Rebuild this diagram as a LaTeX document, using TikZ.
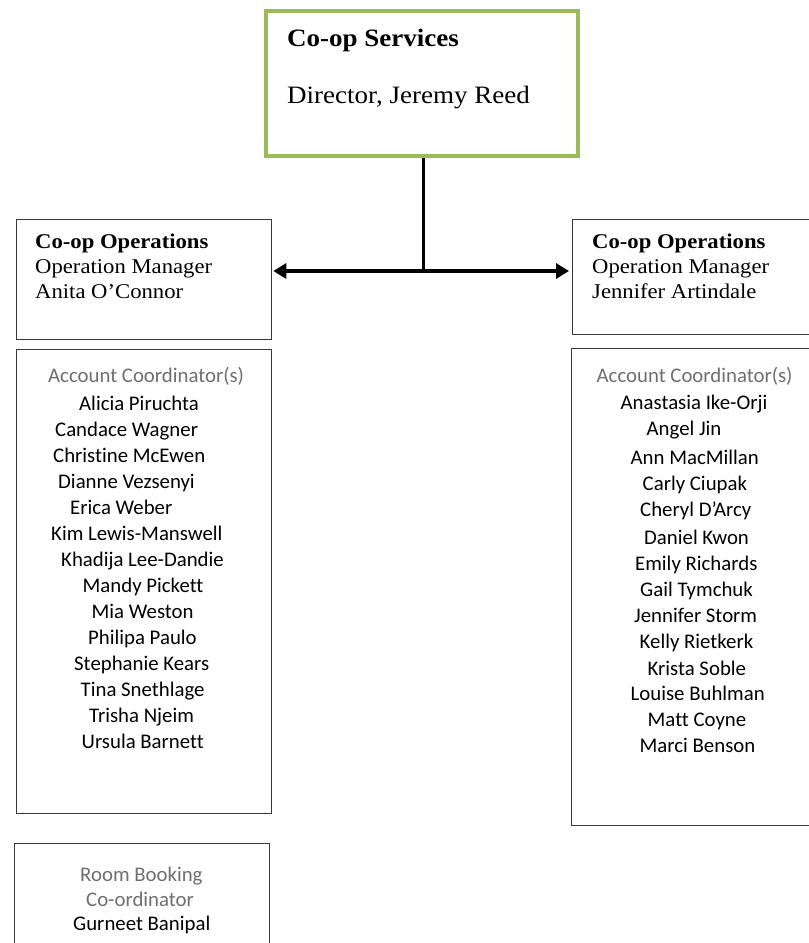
\documentclass[tikz,border=0pt]{standalone}
\usepackage{fontspec}
\setmainfont{Liberation Serif}[FakeStretch=1.08]
\newfontfamily\listfont{Carlito}[Ligatures=NoCommon]
\usetikzlibrary{arrows.meta}
\definecolor{leafgreen}{HTML}{9BBB59}
\definecolor{framegray}{HTML}{3A3A3A}
\definecolor{titlegray}{HTML}{6E6E6E}
\begin{document}
\begin{tikzpicture}[x=1pt,y=-1pt,
  topbox/.style={draw=leafgreen,line width=4pt,rectangle,inner sep=0pt,anchor=north west},
  unitbox/.style={draw=framegray,line width=1.3pt,rectangle,inner sep=0pt,anchor=north west},
  headtext/.style={anchor=base west,inner sep=0pt,font=\fontsize{21}{25}\selectfont},
  headbold/.style={headtext,font=\fontsize{21}{25}\selectfont\bfseries},
  roletext/.style={anchor=base west,inner sep=0pt,text=titlegray,font=\listfont\fontsize{20.8}{25}\selectfont},
  nametext/.style={anchor=base west,inner sep=0pt,font=\listfont\fontsize{20.8}{25}\selectfont},
  conn/.style={line width=3.6pt,draw=black},
  tip/.style={-{Triangle[length=13pt,width=15pt]}}]
\useasboundingbox (0,0) rectangle (809,943);
\clip (0,0) rectangle (809,943);

% director
\node[topbox,minimum width=312pt,minimum height=145pt] (dir) at (264,9) {};
\node[anchor=base west,inner sep=0pt,font=\fontsize{25}{29}\selectfont\bfseries] (dirT) at (287,46) {Co-op Services};
\node[anchor=base west,inner sep=0pt,font=\fontsize{25}{29}\selectfont] (dirN) at (287,103) {Director, Jeremy Reed};

% operations managers
\node[unitbox,minimum width=255pt,minimum height=120pt] (opsL) at (16,218.5) {};
\node[headbold] (opsLt) at (35,248.5) {Co-op Operations};
\node[headtext] (opsLr) at (35,273.5) {Operation Manager};
\node[headtext] (opsLn) at (35,298.5) {Anita O’Connor};

\node[unitbox,minimum width=250pt,minimum height=115pt] (opsR) at (572,218.5) {};
\node[headbold] (opsRt) at (592,248.5) {Co-op Operations};
\node[headtext] (opsRr) at (592,273.5) {Operation Manager};
\node[headtext] (opsRn) at (592,298.5) {Jennifer Artindale};

% connectors
\coordinate (jn) at (423.5,271);
\draw[conn] (dir.south -| jn) -- (jn);
\draw[conn,tip,shorten >=1pt] (jn) -- (opsL.east |- jn);
\draw[conn,tip,shorten >=3pt] (jn) -- (opsR.west |- jn);

% left coordinator list
\node[unitbox,minimum width=255pt,minimum height=464pt] (listL) at (16,348.5) {};
\node[roletext] (listLh) at (48,382.5) {Account Coordinator(s)};
\node[nametext] (l01) at (79,410) {Alicia Piruchta};
\node[nametext] (l02) at (55,436) {Candace Wagner};
\node[nametext] (l03) at (53,462) {Christine McEwen};
\node[nametext] (l04) at (58,488) {Dianne Vezsenyi};
\node[nametext] (l05) at (70,514) {Erica Weber};
\node[nametext] (l06) at (51,540) {Kim Lewis-Manswell};
\node[nametext] (l07) at (61,566) {Khadija Lee-Dandie};
\node[nametext] (l08) at (82.5,592) {Mandy Pickett};
\node[nametext] (l09) at (91.5,618) {Mia Weston};
\node[nametext] (l10) at (88,644) {Philipa Paulo};
\node[nametext] (l11) at (74,670) {Stephanie Kears};
\node[nametext] (l12) at (80.5,696) {Tina Snethlage};
\node[nametext] (l13) at (89,722) {Trisha Njeim};
\node[nametext] (l14) at (81.5,748) {Ursula Barnett};

% right coordinator list
\node[unitbox,minimum width=250pt,minimum height=477pt] (listR) at (571,347.5) {};
\node[roletext] (listRh) at (596.5,382.5) {Account Coordinator(s)};
\node[nametext] (r01) at (620.5,409.5) {Anastasia Ike-Orji};
\node[nametext] (r02) at (646.5,435) {Angel Jin};
\node[nametext] (r03) at (630.5,464) {Ann MacMillan};
\node[nametext] (r04) at (642.5,490.5) {Carly Ciupak};
\node[nametext] (r05) at (640,516.5) {Cheryl D’Arcy};
\node[nametext] (r06) at (644,544) {Daniel Kwon};
\node[nametext] (r07) at (635,570) {Emily Richards};
\node[nametext] (r08) at (640,596) {Gail Tymchuk};
\node[nametext] (r09) at (634,622.5) {Jennifer Storm};
\node[nametext] (r10) at (639.5,648.5) {Kelly Rietkerk};
\node[nametext] (r11) at (647.5,675) {Krista Soble};
\node[nametext] (r12) at (630.5,700.5) {Louise Buhlman};
\node[nametext] (r13) at (647.5,726.5) {Matt Coyne};
\node[nametext] (r14) at (639.5,752.5) {Marci Benson};

% room booking
\node[unitbox,minimum width=255pt,minimum height=140pt] (room) at (14,843) {};
\node[roletext] (roomA) at (80,881) {Room Booking};
\node[roletext] (roomB) at (86,906.5) {Co-ordinator};
\node[nametext] (roomN) at (73,930) {Gurneet Banipal};
\end{tikzpicture}
\end{document}
